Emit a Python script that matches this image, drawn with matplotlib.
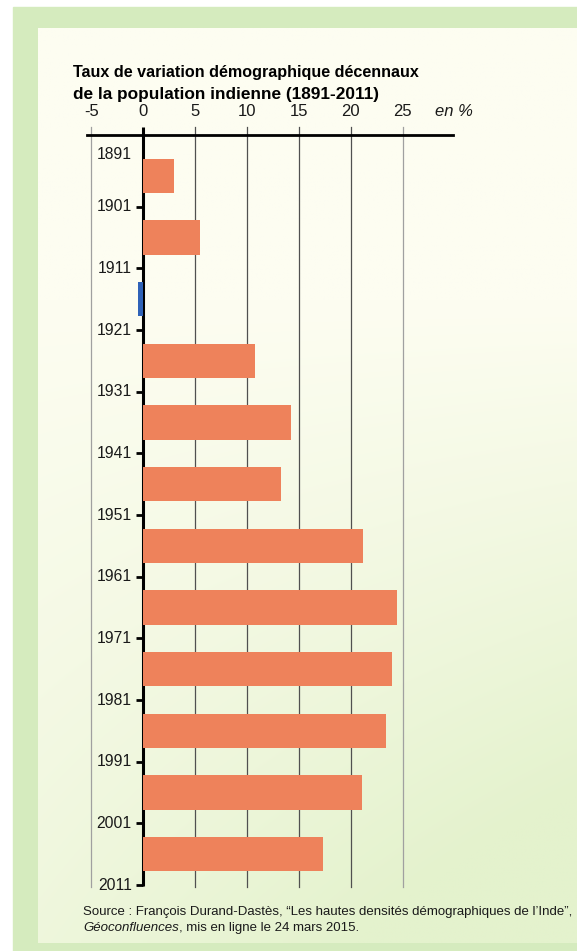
import numpy as np
import matplotlib.pyplot as plt

# Data: decadal growth of Indian population (%)
decades = ['1891', '1901', '1911', '1921', '1931', '1941', '1951',
           '1961', '1971', '1981', '1991', '2001', '2011']
growth = [3.0, 5.5, -0.5, 10.8, 14.2, 13.3, 21.2, 24.4, 24.0, 23.4, 21.1, 17.3]
xticks = [-5, 0, 5, 10, 15, 20, 25]

fam = ['Liberation Sans', 'DejaVu Sans']
ink = '#1a1a1a'

W, H = 577, 951
fig = plt.figure(figsize=(W / 100, H / 100), dpi=100)

# background: scanned page look
bg = fig.add_axes([0, 0, 1, 1])
bg.set_xlim(0, W)
bg.set_ylim(H, 0)
bg.axis('off')
bg.add_patch(plt.Rectangle((13, 7), W, 944, color='#d5ebbe', zorder=0))
yy, xx = np.mgrid[0:1:200j, 0:1:120j]
t = np.clip((yy - 0.3) / 0.7 * (0.45 + 0.55 * xx) * 1.3, 0, 1)[..., None]
cream = np.array([253, 253, 241]) / 255
green = np.array([228, 242, 205]) / 255
grad = cream * (1 - t) + green * t
bg.imshow(grad, extent=(38, W, 943, 28), aspect='auto', zorder=1,
          interpolation='bilinear')

# main chart axes mapped to pixel layout
x0, x1 = -5.5, 30.5
y0, y1 = 1886, 2014
ax = fig.add_axes([86.2 / W, 1 - 903.5 / H, (459.9 - 86.2) / W, (903.5 - 114.2) / H])
ax.set_xlim(x0, x1)
ax.set_ylim(y1, y0)
ax.axis('off')
ax.patch.set_alpha(0)

years = np.array([int(d) for d in decades])
mids = years[:-1] + 5

# gridlines
for v in xticks:
    if v == 0:
        continue
    c = '#a0a0a0' if v in (-5, 25) else '#505050'
    ax.plot([v, v], [1888.1, 2011.3], color=c, lw=0.9, zorder=1)

# axes lines
ax.plot([-5.42, 29.84], [1889.4, 1889.4], color='black', lw=2.0, zorder=2)
ax.plot([0, 0], [1888.1, 2011.2], color='black', lw=2.2, zorder=2,
        solid_capstyle='butt')
for y in years[1:]:
    ax.plot([-0.7, 0], [y, y], color='black', lw=2.0, zorder=2,
            solid_capstyle='butt')

# bars
colors = ['#2f62b8' if g < 0 else '#ee825b' for g in growth]
ax.barh(mids, growth, height=5.6, left=0, color=colors, zorder=3)

# tick labels
for v in xticks:
    ax.text(v, 1885.6, str(v), ha='center', va='center', fontsize=12,
            family=fam, color=ink)
ax.text(29.9, 1885.6, 'en %', ha='center', va='center', fontsize=12,
        family=fam, style='italic', color=ink)
for i, d in enumerate(decades):
    y = years[i] + (1.6 if i == 0 else 0)
    ax.text(-1.1, y, d, ha='right', va='center', fontsize=11.3,
            family=fam, color=ink)

# title
t1 = fig.text(73 / W, 1 - 72 / H, 'Taux de variation démographique décennaux',
              ha='left', va='center', fontsize=12, fontweight='bold', family=fam)
t2 = fig.text(73 / W, 1 - 95 / H, 'de la population indienne (1891-2011)',
              ha='left', va='center', fontsize=12, fontweight='bold', family=fam)

# source
s1 = fig.text(83 / W, 1 - 912 / H,
              'Source : François Durand-Dastès, “Les hautes densités démographiques de l\u2019Inde”,',
              ha='left', va='center', fontsize=9, family=fam, color=ink)
s2 = fig.text(83 / W, 1 - 928 / H, 'Géoconfluences', ha='left', va='center',
              fontsize=9, family=fam, style='italic', color=ink)
s3 = ax.annotate(', mis en ligne le 24 mars 2015.', xy=(1, 0.5), xycoords=s2,
                 ha='left', va='center', fontsize=9, family=fam, color=ink)

# fit text widths to the reference layout (condensed original font)
fig.canvas.draw()
r = fig.canvas.get_renderer()
for txt, target in [(t1, 345), (t2, 304), (s1, 490)]:
    w = txt.get_window_extent(r).width
    txt.set_fontsize(txt.get_fontsize() * target / w)
s2.set_fontsize(s1.get_fontsize())
s3.set_fontsize(s1.get_fontsize())

fig.savefig('out.png', dpi=100)
